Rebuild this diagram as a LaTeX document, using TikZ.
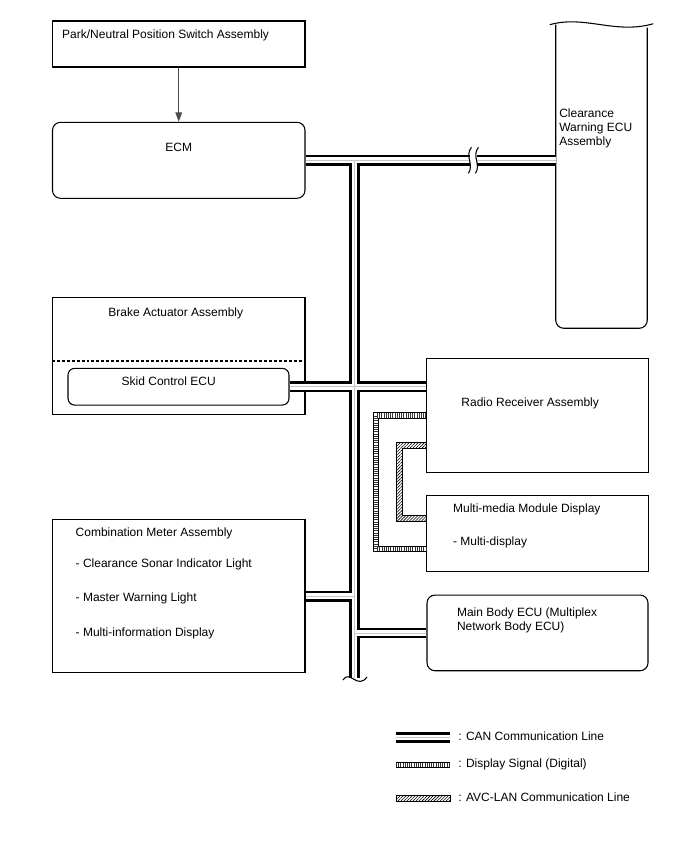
\documentclass[tikz,border=0pt]{standalone}
\usepackage{fontspec}
\setmainfont{Liberation Sans}
\usetikzlibrary{arrows.meta,calc,patterns.meta}

\def\px{*0.75pt}

\tikzset{
  box/.style={draw, line width=0.8pt, inner sep=0pt, fill=white},
  ecubox/.style={box, rounded corners=6pt},
  lbl/.style={inner sep=0pt, anchor=west},
  sigline/.style={draw=black!70, line width=0.8pt, -{Triangle[width=5pt,length=7pt]}},
  dispsig/.style={line width=4.8pt,
    postaction={draw=white, line width=3.4pt},
    postaction={draw=black!80, line width=3.4pt, dash pattern=on 0.55pt off 1.1pt}},
  avcband/.style={draw, line width=0.6pt,
    pattern={Lines[angle=45,distance=1.6pt,line width=0.45pt]}},
}

% CAN line: black outer, white inner, faint centre
\newcommand{\canbus}[1]{%
  \draw[line width=8pt] #1;
  \draw[white, line width=4.4pt] #1;
  \draw[gray!45, line width=0.4pt] #1;}

\begin{document}
\begin{tikzpicture}[x=0.75pt, y=-0.75pt, font=\fontsize{9}{10.5}\selectfont]

  \fill[white] (0,0) rectangle (688,852);
  \useasboundingbox (0,0) rectangle (688,852);

  % left column
  \node[box, minimum width=252.5\px, minimum height=46\px] (park) at (178.75,44) {};
  \node[lbl] (parktxt) at ($(park.north west)+(10,14.5)$) {Park/Neutral Position Switch Assembly};

  \node[ecubox, minimum width=252.5\px, minimum height=76\px] (ecm) at (178.75,160.3) {};
  \node[inner sep=0pt] (ecmtxt) at ($(ecm.north)+(0,26)$) {ECM};

  \node[box, minimum width=252.5\px, minimum height=116.7\px] (brake) at (178.75,355.7) {};
  \node[inner sep=0pt] (braketxt) at ($(brake.north)+(-3,16.5)$) {Brake Actuator Assembly};
  \draw[line width=0.8pt, dash pattern=on 2.2pt off 1.5pt]
    ($(brake.west)+(0,5.3)$) -- ($(brake.east)+(0,5.3)$);
  \node[ecubox, rounded corners=5pt, minimum width=221\px, minimum height=36.7\px] (skid) at (178.5,386.7) {};
  \node[lbl] (skidtxt) at ($(skid.north west)+(54,13.6)$) {Skid Control ECU};

  \node[box, minimum width=252.3\px, minimum height=152.7\px] (meter) at (178.85,596.3) {};
  \node[lbl] (metertxt) at ($(meter.north west)+(23.3,14.3)$) {Combination Meter Assembly};
  \node[lbl] (meterA) at ($(meter.north west)+(23.3,44.8)$) {- Clearance Sonar Indicator Light};
  \node[lbl] (meterB) at ($(meter.north west)+(23.3,79)$) {- Master Warning Light};
  \node[lbl] (meterC) at ($(meter.north west)+(23.3,113.7)$) {- Multi-information Display};

  % right column
  \node[minimum width=91\px, minimum height=303\px, inner sep=0pt] (clear) at (601.5,176.5) {};
  \draw[line width=0.8pt, rounded corners=6pt]
    (clear.north west) -- (clear.south west) -- (clear.south east) -- ($(clear.north east)+(0,3)$);
  \draw[line width=0.8pt] ($(clear.north west)+(-6,0)$)
    .. controls ($(clear.north west)+(29,-10)$) and ($(clear.north east)+(-32,10)$) .. ($(clear.north east)+(6,-1)$);
  \node[lbl, anchor=north west, align=left] (cleartxt) at ($(clear.north west)+(3.3,84)$)
    {Clearance\\Warning ECU\\Assembly};

  \node[box, minimum width=221.3\px, minimum height=114\px] (radio) at (537.4,415.3) {};
  \node[lbl] (radiotxt) at ($(radio.north west)+(35,45.3)$) {Radio Receiver Assembly};

  \node[box, minimum width=221.3\px, minimum height=76\px] (mmd) at (537.4,533.7) {};
  \node[lbl] (mmdtxt) at ($(mmd.north west)+(26.6,14)$) {Multi-media Module Display};
  \node[lbl] (mmdsub) at ($(mmd.north west)+(26.6,47.3)$) {- Multi-display};

  \node[ecubox, minimum width=221\px, minimum height=75.7\px] (body) at (537.5,632.9) {};
  \node[lbl, anchor=north west, align=left] (bodytxt) at ($(body.north west)+(30.3,13.2)$)
    {Main Body ECU (Multiplex\\Network Body ECU)};

  % park/neutral signal
  \draw[sigline] (park) -- (ecm);

  % CAN bus
  \coordinate (trunkend) at (354.5,678);
  \canbus{(ecm.east) -- (clear.west |- ecm.east)
          (ecm.east -| trunkend) -- (trunkend)
          (skid.east) -- (radio.west |- skid.east)
          (meter.east) -- (meter.east -| trunkend)
          (body.west) -- (body.west -| trunkend)}

  % break marks
  \coordinate (brk) at ($(ecm.east)!0.673!(clear.west |- ecm.east)$);
  \fill[white] ($(brk)+(-3.5,-9)$) rectangle ($(brk)+(3.5,9)$);
  \foreach \dx in {-3.5,3.5}
    \draw[line width=0.8pt] ($(brk)+(\dx+1,-13)$) .. controls ($(brk)+(\dx-6,-4)$) and ($(brk)+(\dx+4,4)$) .. ($(brk)+(\dx-2,13)$);
  \draw[line width=0.8pt] ($(trunkend)+(-11.5,2)$)
    .. controls ($(trunkend)+(-5,-9)$) and ($(trunkend)+(3,12)$) .. ($(trunkend)+(12.5,-1)$);

  % display signal
  \draw[dispsig] (radio.west) -- ++(-50,0) |- ($(mmd.west)+(0,15.5)$);

  % AVC-LAN
  \def\avcx{27}
  \coordinate (avcin) at ($(radio.west)+(0,30)$);
  \coordinate (avcout) at ($(mmd.west)+(0,-15.7)$);
  \draw[avcband] ($(avcin)+(0,-3)$) -- ++(-\avcx-3,0) |- ($(avcout)+(0,3)$)
    -- ($(avcout)+(0,-3)$) -- ++(-\avcx+3,0) |- ($(avcin)+(0,3)$) -- cycle;

  % legend
  \coordinate (lgcan) at (396,737.5);
  \coordinate (lgdisp) at (396,765);
  \coordinate (lgavc) at (396,795);
  \canbus{(lgcan) -- ++(54,0)}
  \draw[dispsig] (lgdisp) -- ++(54,0);
  \draw[avcband] (lgavc) rectangle ++(54,6);
  \node[lbl] (lgcantxt) at ($(lgcan)+(62,-1.5)$) {: CAN Communication Line};
  \node[lbl] (lgdisptxt) at ($(lgdisp)+(62,-1)$) {: Display Signal (Digital)};
  \node[lbl] (lgavctxt) at ($(lgavc)+(62,2)$) {: AVC-LAN Communication Line};

\end{tikzpicture}
\end{document}
